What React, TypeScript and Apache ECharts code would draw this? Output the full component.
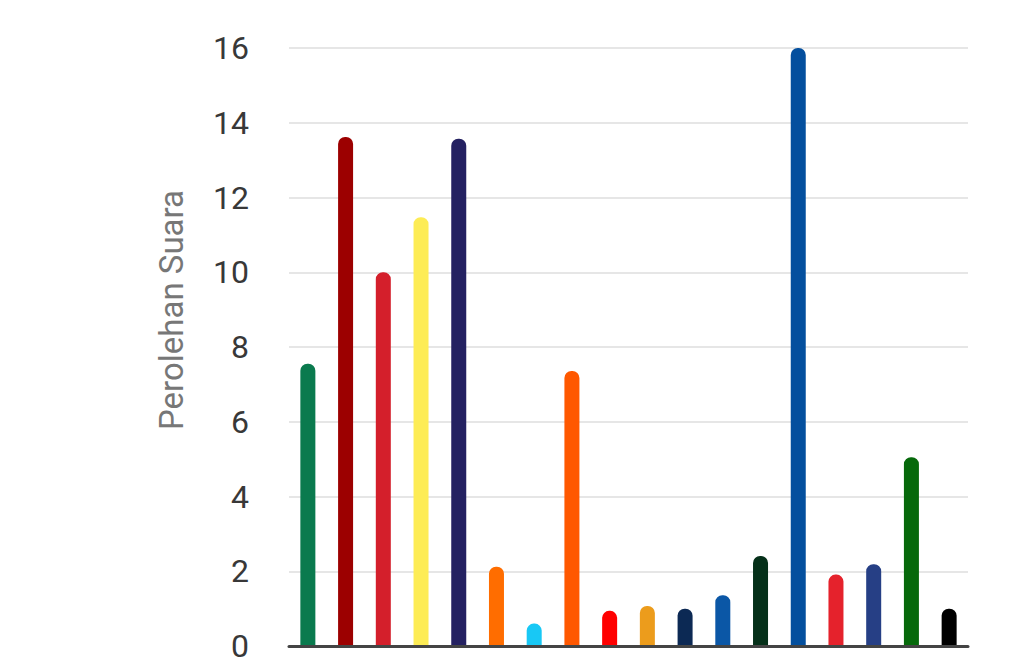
import React, { useEffect, useRef } from "react";
import * as echarts from "echarts";

const categories = [
  "PKB", "Gerindra", "PDI-P", "Golkar", "NasDem", "Partai Buruh",
  "Gelora", "PKS", "PKN", "Hanura", "Garuda", "PAN",
  "PBB", "Demokrat", "PSI", "Perindo", "PPP", "Ummat",
];
const values = [
  7.55, 13.62, 10.0, 11.47, 13.57, 2.12,
  0.6, 7.36, 0.94, 1.07, 1.0, 1.36,
  2.41, 16.0, 1.91, 2.19, 5.05, 1.0,
];
const colors = [
  "#0a7a4e", "#9c0000", "#d41f2b", "#fdec55", "#242161", "#ff6d00",
  "#18c8f5", "#ff5800", "#ff0000", "#ec9c1c", "#0c2954", "#0b57a6",
  "#053019", "#044f9e", "#e5222c", "#263f85", "#06690b", "#000000",
];
const yTicks = [0, 2, 4, 6, 8, 10, 12, 14, 16];

export default function App() {
  const ref = useRef<HTMLDivElement>(null);
  useEffect(() => {
    if (!ref.current) return;
    const chart = echarts.init(ref.current, null, { renderer: "svg" });
    chart.setOption({
      animation: false,
      backgroundColor: "#ffffff",
      textStyle: { fontFamily: "Roboto" },
      grid: { left: 289, right: 56, top: 48, bottom: 21, containLabel: false },
      xAxis: {
        type: "category",
        data: categories,
        z: 10,
        axisLine: { show: true, lineStyle: { color: "#444444", width: 3 } },
        axisTick: { show: false },
        axisLabel: { show: false },
        splitLine: { show: false },
      },
      yAxis: {
        type: "value",
        min: yTicks[0],
        max: yTicks[yTicks.length - 1],
        interval: 2,
        name: "Perolehan Suara",
        nameLocation: "middle",
        nameGap: 101,
        nameTextStyle: {
          fontSize: 33,
          color: "#777777",
          fontFamily: "Roboto",
          padding: [0, 0, 0, 74],
        },
        axisLine: { show: false },
        axisTick: { show: false },
        axisLabel: { margin: 40, fontSize: 32, color: "#383838", fontFamily: "Roboto" },
        splitLine: { lineStyle: { color: "#e6e6e6", width: 2 } },
      },
      series: [
        {
          type: "bar",
          barWidth: 15,
          data: values.map((v, i) => ({
            value: v,
            itemStyle: {
              color: colors[i],
              borderRadius: [7, 7, 0, 0],
            },
          })),
        },
      ],
    });
    return () => chart.dispose();
  }, []);
  return (
    <div
      ref={ref}
      style={{ position: "fixed", left: 0, top: 0, width: 1024, height: 667 }}
    />
  );
}
